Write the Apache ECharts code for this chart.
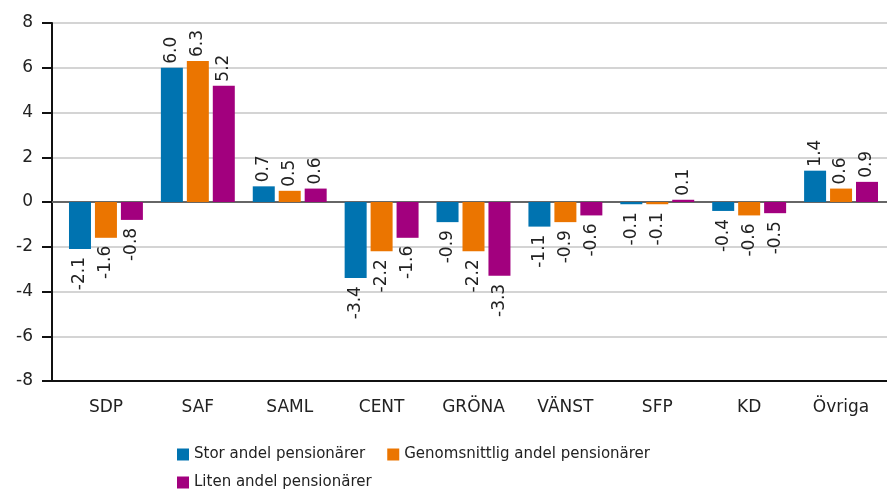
<!DOCTYPE html>
<html><head><meta charset="utf-8">
<script src="https://cdn.jsdelivr.net/npm/echarts@6/dist/echarts.min.js"></script>
<style>html,body{margin:0;padding:0;background:#fff}#c{width:887px;height:490px}</style>
</head><body><div id="c"></div>
<script>
const categories = ['SDP','SAF','SAML','CENT','GRÖNA','VÄNST','SFP','KD','Övriga'];
const seriesNames = ['Stor andel pensionärer','Genomsnittlig andel pensionärer','Liten andel pensionärer'];
const stor = [-2.1, 6.0, 0.7, -3.4, -0.9, -1.1, -0.1, -0.4, 1.4];
const genomsnitt = [-1.6, 6.3, 0.5, -2.2, -2.2, -0.9, -0.1, -0.6, 0.6];
const liten = [-0.8, 5.2, 0.6, -1.6, -3.3, -0.6, 0.1, -0.5, 0.9];
const colors = ['#0073b0', '#eb7500', '#a2007e'];
const yTicks = { min: -8, max: 8, interval: 2 };

const FONT = 'DejaVu Sans';
const chart = echarts.init(document.getElementById('c'));
function mk(name, vals, color) {
  return {
    name, type: 'bar', xAxisIndex: 0, yAxisIndex: 0,
    barWidth: 22, barGap: '18%',
    itemStyle: { color },
    data: vals.map(v => ({
      value: v,
      label: {
        show: true, rotate: 90, distance: v >= 0 ? 4 : 8,
        position: v >= 0 ? 'top' : 'bottom',
        align: v >= 0 ? 'left' : 'right',
        verticalAlign: 'middle',
        formatter: p => p.value.toFixed(1),
        fontFamily: FONT, fontSize: 17, color: '#222'
      }
    }))
  };
}
const legendText = { fontFamily: FONT, fontSize: 15, color: '#222' };
chart.setOption({
  animation: false,
  color: colors,
  grid: [
    { left: 60, right: -1, top: 23, bottom: 109 },
    { left: 52, right: -1, top: 23, bottom: 109 }
  ],
  legend: [
    { data: [seriesNames[0], seriesNames[1]], left: 172, top: 442, itemWidth: 12, itemHeight: 12, itemGap: 22, icon: 'rect', textStyle: legendText },
    { data: [seriesNames[2]], left: 172, top: 470, itemWidth: 12, itemHeight: 12, icon: 'rect', textStyle: legendText }
  ],
  xAxis: [
    { type: 'category', gridIndex: 0, data: categories, position: 'bottom',
      axisLine: { show: false, onZero: false }, axisTick: { show: false },
      axisLabel: { margin: 18, fontFamily: FONT, fontSize: 17, color: '#222' } },
    { type: 'value', gridIndex: 1, min: 0, max: 1, show: true, position: 'bottom',
      axisLine: { show: true, onZero: false, lineStyle: { color: '#111', width: 2 } },
      axisTick: { show: false }, axisLabel: { show: false }, splitLine: { show: false } },
    { type: 'value', gridIndex: 1, min: 0, max: 1, show: true, position: 'bottom',
      axisLine: { show: true, onZero: true, lineStyle: { color: '#666', width: 2 } },
      axisTick: { show: false }, axisLabel: { show: false }, splitLine: { show: false } }
  ],
  yAxis: [
    { type: 'value', gridIndex: 0, min: yTicks.min, max: yTicks.max, interval: yTicks.interval, show: false, splitLine: { show: false } },
    { type: 'value', gridIndex: 1, min: yTicks.min, max: yTicks.max, interval: yTicks.interval,
      axisLine: { show: true, lineStyle: { color: '#111', width: 2 } },
      axisTick: { show: true, length: 10, lineStyle: { color: '#111', width: 2 } },
      axisLabel: { margin: 19, fontFamily: FONT, fontSize: 17, color: '#222' },
      splitLine: { show: true, lineStyle: { color: '#d4d4d4', width: 2 } } }
  ],
  series: [
    { type: 'line', xAxisIndex: 2, yAxisIndex: 1, data: [], silent: true },
    mk(seriesNames[0], stor, colors[0]),
    mk(seriesNames[1], genomsnitt, colors[1]),
    mk(seriesNames[2], liten, colors[2])
  ]
});
</script></body></html>
